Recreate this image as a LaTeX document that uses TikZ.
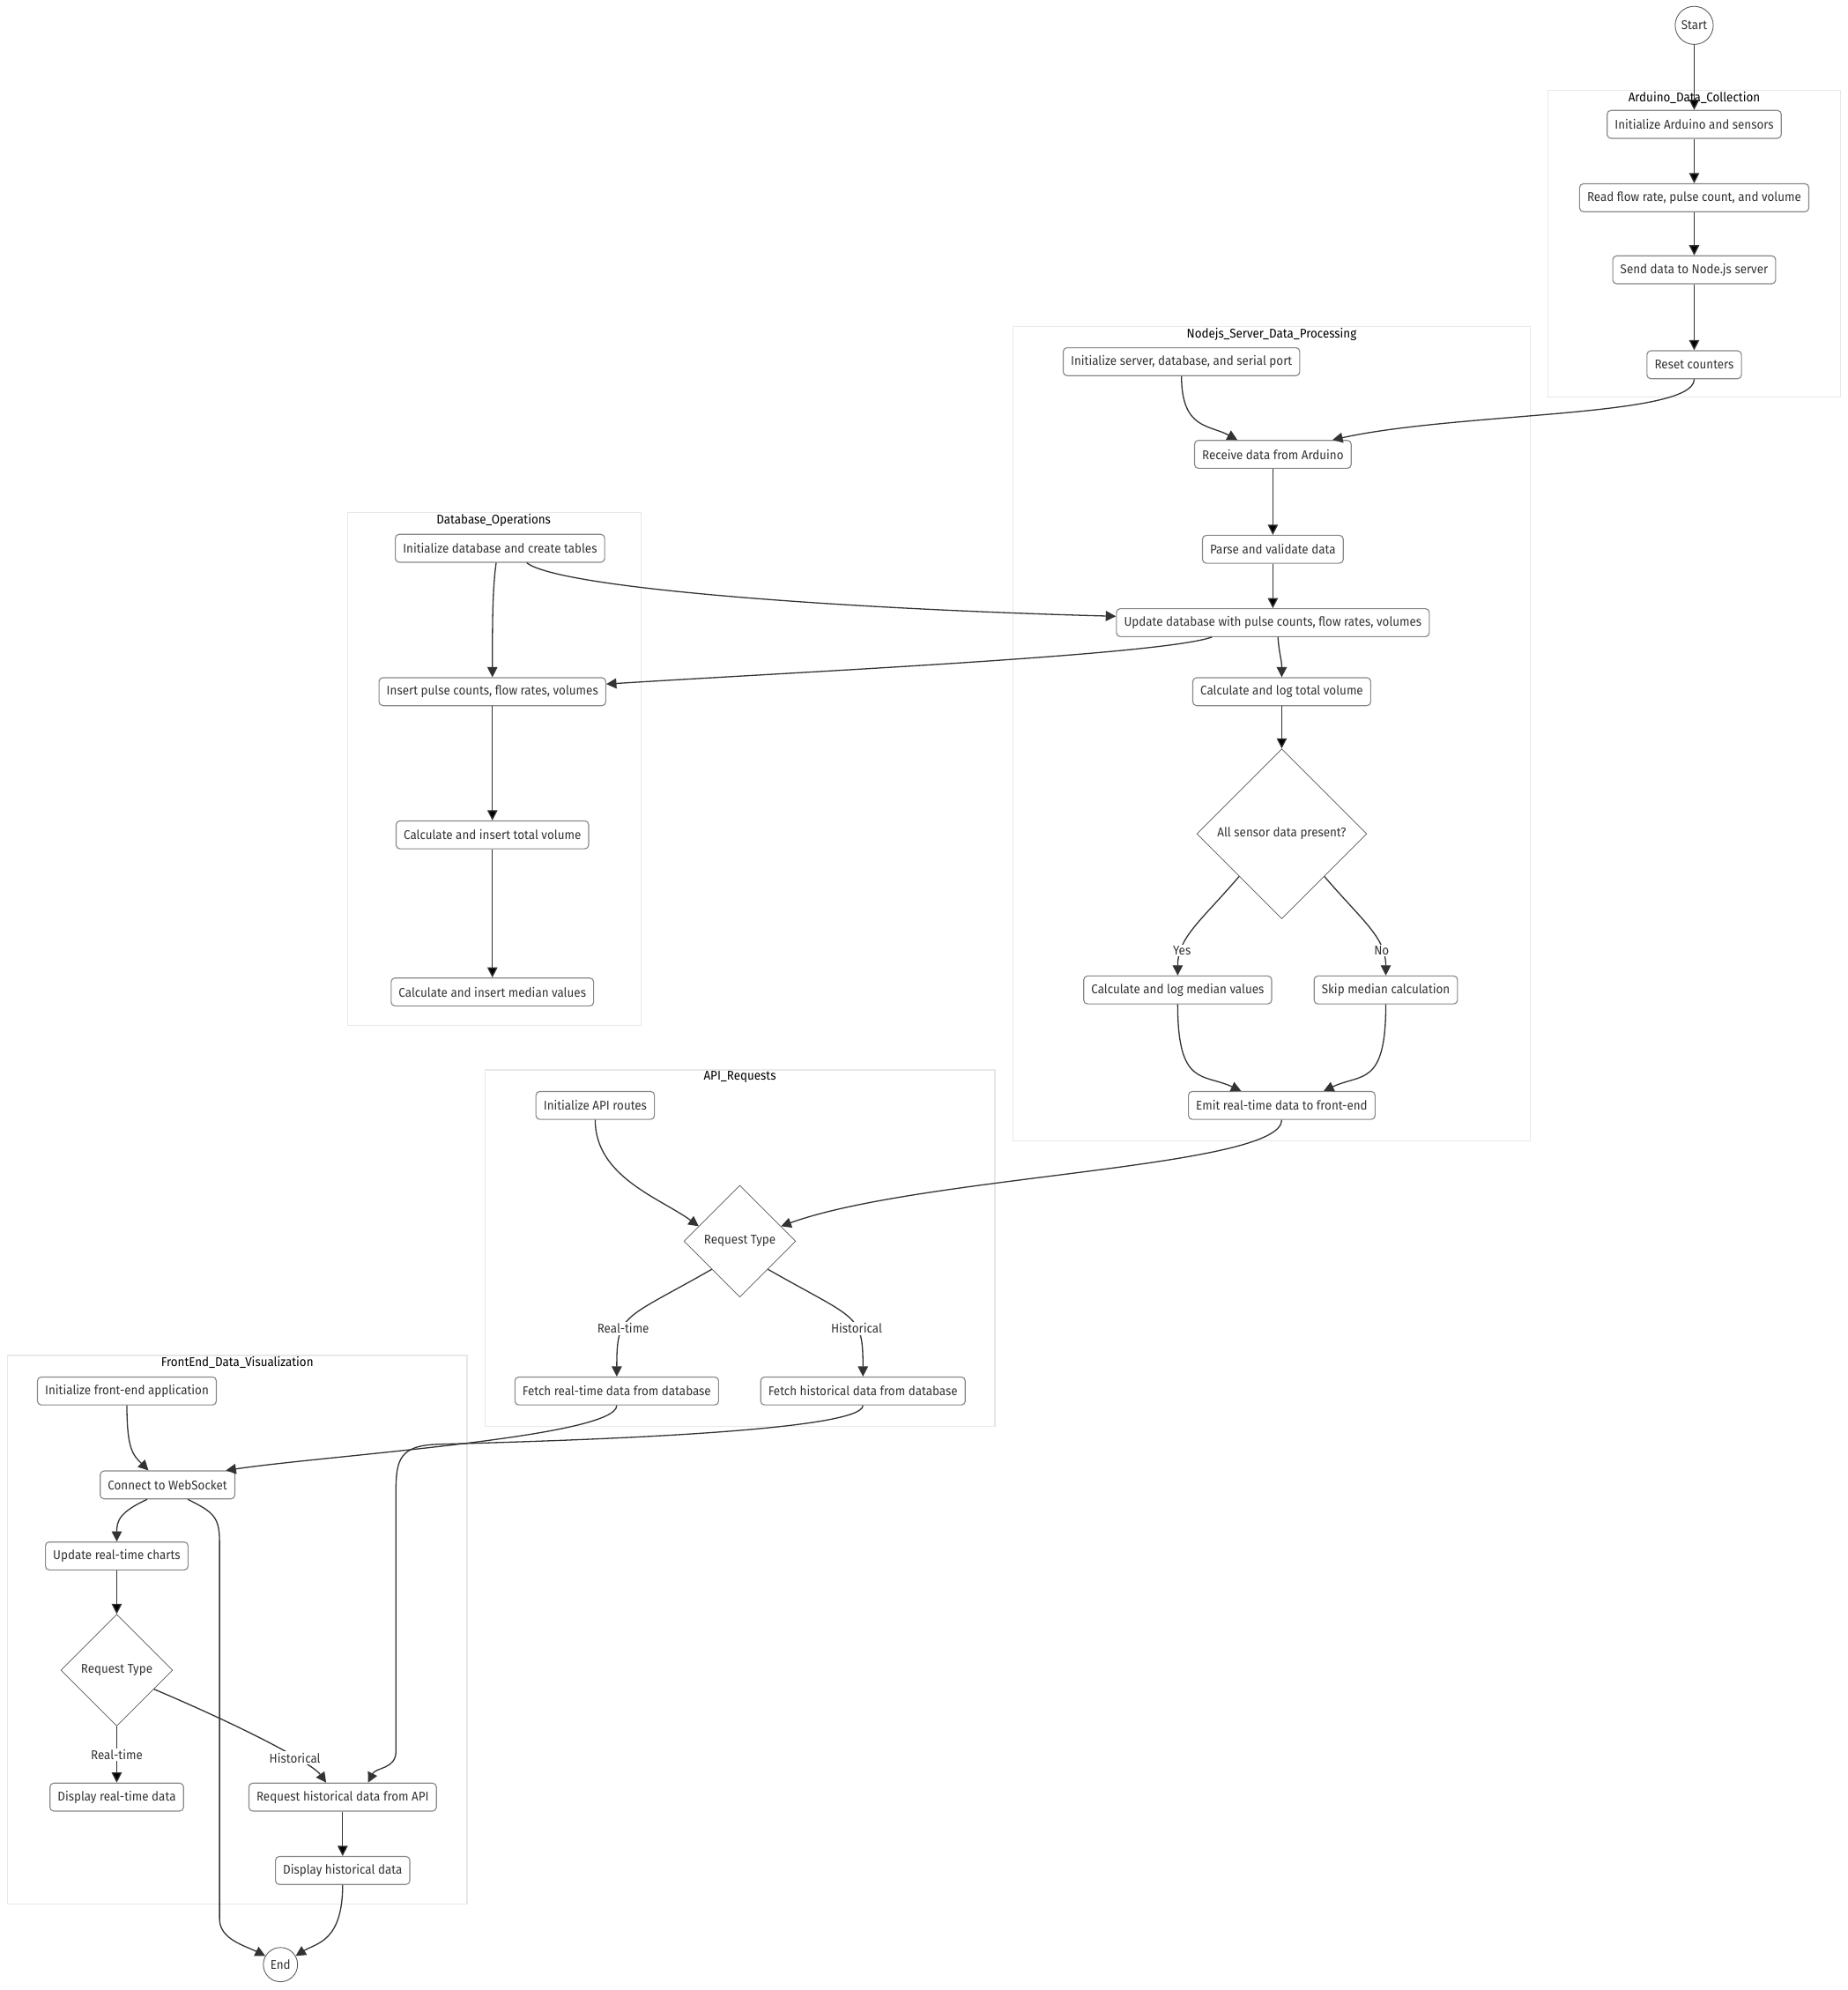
\documentclass[tikz,border=0pt]{standalone}
\usepackage{fontspec}
\setmainfont{Fira Sans}[FakeStretch=0.93]
\usepackage{tikz}
\usetikzlibrary{arrows.meta,positioning,shapes.geometric}
\definecolor{txt}{HTML}{333333}
\definecolor{edgecol}{HTML}{333333}
\definecolor{boxline}{HTML}{888888}
\definecolor{clusterline}{HTML}{E8E8E8}

\begin{document}
\begin{tikzpicture}[x=1pt,y=-1pt,->,>={Triangle[length=8pt,width=8pt]},
                    node distance=35pt]
  \tikzstyle{box}=[draw=boxline,fill=white,rounded corners=3pt,text=txt,
                   minimum height=22pt,inner xsep=6pt,inner ysep=2pt,line width=0.8pt]
  \tikzstyle{decision}=[diamond,draw=black!65,fill=white,text=txt,aspect=1,
                        inner sep=0pt,line width=0.5pt]
  \tikzstyle{terminal}=[circle,draw=black!65,fill=white,text=txt,inner sep=0pt,line width=0.6pt]
  \tikzstyle{lbl}=[fill=white,text=txt,inner sep=1pt]
  \tikzstyle{cluster}=[-,draw=clusterline,fill=white,line width=0.8pt]
  \tikzstyle{title}=[anchor=north,inner sep=1pt,text=black]
  \tikzstyle{flow}=[draw=edgecol,line width=0.9pt]

  \useasboundingbox (0,0) rectangle (1456,1568);

  % subgraphs
  \draw[cluster] (1220,71) rectangle (1450,313);
  \draw[cluster] (798,257) rectangle (1206,899);
  \draw[cluster] (274,404) rectangle (505,808);
  \draw[cluster] (382,843) rectangle (784,1124);
  \draw[cluster] (6,1068) rectangle (368,1500);
  \node[title] (tArduino) at (1335,71)  {Arduino\_Data\_Collection};
  \node[title] (tServer)  at (1002,257) {Nodejs\_Server\_Data\_Processing};
  \node[title] (tDb)      at (389,404)  {Database\_Operations};
  \node[title] (tApi)     at (583,843)  {API\_Requests};
  \node[title] (tFront)   at (187,1068) {FrontEnd\_Data\_Visualization};

  % Arduino
  \node[terminal,minimum size=30pt] (Start) at (1335,20) {Start};
  \node[box] (A1) at (1335,98)      {Initialize Arduino and sensors};
  \node[box] (A2) [below=of A1]     {Read flow rate, pulse count, and volume};
  \node[box] (A3) [below=34pt of A2] {Send data to Node.js server};
  \node[box] (A4) [below=52pt of A3] {Reset counters};

  % Node.js server
  \node[box] (N1) at (931,285)       {Initialize server, database, and serial port};
  \node[box] (N2) at (1003,358)      {Receive data from Arduino};
  \node[box] (N3) [below=52pt of N2] {Parse and validate data};
  \node[box] (N4) [below=of N3]      {Update database with pulse counts, flow rates, volumes};
  \node[box] (N5) at (1010,545)      {Calculate and log total volume};
  \node[decision,minimum size=134pt] (N6) at (1010,657) {All sensor data present?};
  \node[box] (N7) at (928,780)       {Calculate and log median values};
  \node[box] (N8) at (1092,780)      {Skip median calculation};
  \node[box] (N9) at (1010,871)      {Emit real-time data to front-end};

  % database
  \node[box] (D1) at (394,432)        {Initialize database and create tables};
  \node[box] (D2) at (388,545)        {Insert pulse counts, flow rates, volumes};
  \node[box] (D3) [below=90pt of D2]  {Calculate and insert total volume};
  \node[box] (D4) [below=101pt of D3] {Calculate and insert median values};

  % API
  \node[box] (P1) at (469,871)  {Initialize API routes};
  \node[decision,minimum size=88pt] (P2) at (583,978) {Request Type};
  \node[box] (P3) at (486,1096) {Fetch real-time data from database};
  \node[box] (P4) at (680,1096) {Fetch historical data from database};

  % front-end
  \node[box] (F1) at (100,1096) {Initialize front-end application};
  \node[box] (F2) at (132,1170) {Connect to WebSocket};
  \node[box] (F3) at (92,1226)  {Update real-time charts};
  \node[decision,minimum size=88pt] (F4) at (92,1316) {Request Type};
  \node[box] (F5) at (92,1416)  {Display real-time data};
  \node[box] (F6) at (270,1416) {Request historical data from API};
  \node[box] (F7) [below=of F6] {Display historical data};
  \node[terminal,minimum size=27pt] (End) at (221,1548) {End};

  \path[flow] (Start) edge (A1)
              (A1) edge (A2)
              (A2) edge (A3)
              (A3) edge (A4)
              (N2) edge (N3)
              (N3) edge (N4)
              (N5) edge (N6)
              (D2) edge (D3)
              (D3) edge (D4)
              (F3) edge (F4)
              (F6) edge (F7)
              (F4) edge node[lbl] {Real-time} (F5);

  \draw[flow] (A4.south) .. controls +(0,30) and +(100,-22) .. ([xshift=47pt]N2.north);
  \draw[flow] (N1.south) .. controls +(0,42) and +(-22,-12) .. ([xshift=-28pt]N2.north);
  \draw[flow] ([xshift=4pt]N4.south) .. controls +(1,14) and +(0,-14) .. (N5.north);
  \draw[flow] (N6.south west) .. controls +(-30,35) and +(0,-30) .. (N7.north) node[lbl,pos=0.75] {Yes};
  \draw[flow] (N6.south east) .. controls +(30,35) and +(0,-30) .. (N8.north) node[lbl,pos=0.75] {No};
  \draw[flow] (N7.south) .. controls +(0,65) and +(-30,-14) .. ([xshift=-32pt]N9.north);
  \draw[flow] (N8.south) .. controls +(0,65) and +(30,-14) .. ([xshift=33pt]N9.north);

  \draw[flow] ([xshift=-3pt]D1.south) .. controls +(-3,20) and +(0,-40) .. (D2.north);
  \draw[flow] ([xshift=21pt]D1.south) .. controls +(25,20) and +(-220,-6) .. ([yshift=5pt]N4.west);
  \draw[flow] ([xshift=-48pt]N4.south) .. controls +(-40,14) and +(160,-10) .. ([yshift=6pt]D2.east);

  \draw[flow] (N9.south) .. controls +(0,38) and +(110,-40) .. (P2.20);
  \draw[flow] (P1.south) .. controls +(0,45) and +(-30,-22) .. (P2.160);
  \draw[flow] (P2.south west) .. controls +(-70,40) and +(0,-50) .. (P3.north) node[lbl,pos=0.63] {Real-time};
  \draw[flow] (P2.south east) .. controls +(70,40) and +(0,-50) .. (P4.north) node[lbl,pos=0.63] {Historical};

  \draw[flow] (P3.south) .. controls +(0,25) and +(80,-12) .. ([xshift=46pt]F2.north);
  \draw[flow] (P4.south) .. controls +(0,22) and +(70,-2) .. (345,1138)
              .. controls +(-30,1) and +(0,-25) .. (312,1175) -- (312,1380)
              .. controls +(0,14) and +(6,-12) .. ([xshift=20pt]F6.north);

  \draw[flow] (F1.south) .. controls +(0,35) and +(-12,-12) .. ([xshift=-15pt]F2.north);
  \draw[flow] ([xshift=-16pt]F2.south) .. controls +(-22,10) and +(0,-16) .. (F3.north);
  \draw[flow] ([xshift=16pt]F2.south) .. controls +(20,10) and +(0,-20) .. (173,1215)
              -- (173,1512) .. controls +(0,16) and +(-16,-8) .. (End.150);
  \draw[flow] (F4.-27) .. controls +(80,34) and +(-10,-14) .. ([xshift=-13pt]F6.north) node[lbl,pos=0.64] {Historical};
  \draw[flow] (F7.south) .. controls +(0,45) and +(16,-10) .. (End.30);
\end{tikzpicture}
\end{document}
